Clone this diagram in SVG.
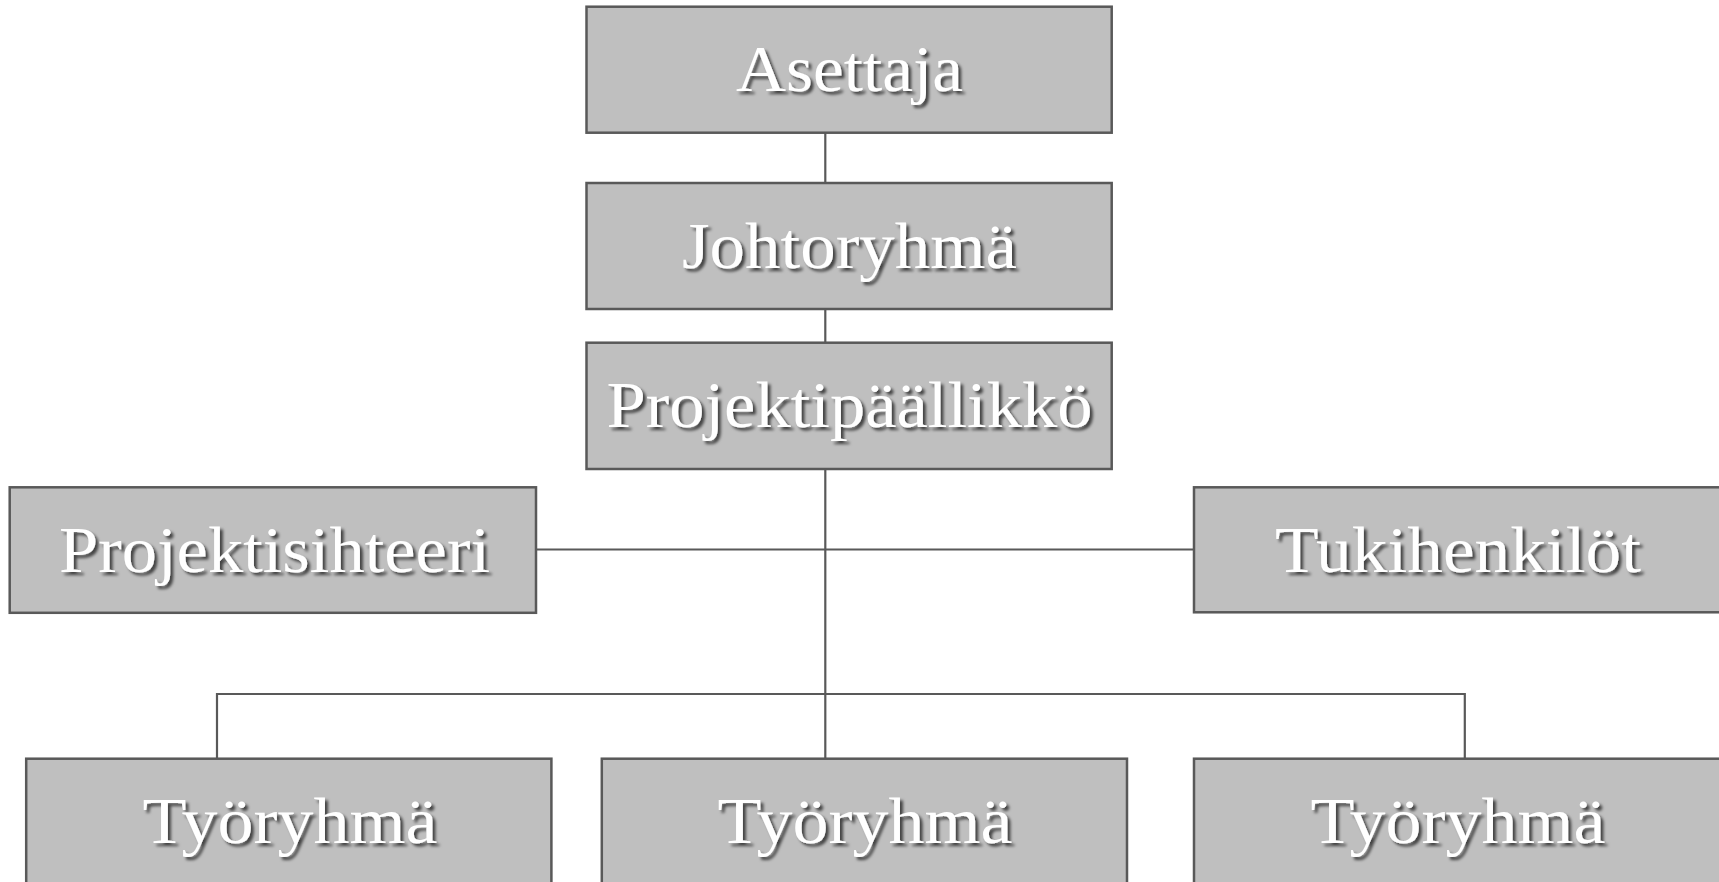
<svg xmlns="http://www.w3.org/2000/svg" width="1719" height="882" viewBox="0 0 1719 882">
<style>
.box{fill:#bfbfbf;stroke:#595959;stroke-width:2.5}
.lbl{font-family:"Liberation Serif","DejaVu Serif",serif;font-size:66px;fill:#ffffff;text-anchor:middle;filter:url(#sh)}
.con{stroke:#595959;stroke-width:2.2;fill:none}
</style>
<defs>
<filter id="sh" x="-10%" y="-30%" width="120%" height="160%">
<feDropShadow dx="3" dy="3" stdDeviation="1.8" flood-color="#000000" flood-opacity="0.65"/>
</filter>
</defs>
<g id="connectors">
<line class="con" x1="825.3" y1="132.7" x2="825.3" y2="183"/>
<line class="con" x1="825.3" y1="309" x2="825.3" y2="342.7"/>
<line class="con" x1="825.3" y1="469" x2="825.3" y2="758.7"/>
<line class="con" x1="536" y1="549.5" x2="1194" y2="549.5"/>
<polyline class="con" points="217,758.7 217,694 1464.8,694 1464.8,758.7"/>
</g>
<g id="asettaja">
<rect class="box" x="586.5" y="6.7" width="525.2" height="126"/>
<text class="lbl" x="849.5" y="91" textLength="227" lengthAdjust="spacingAndGlyphs">Asettaja</text>
</g>
<g id="johtoryhma">
<rect class="box" x="586.5" y="183" width="525.2" height="126"/>
<text class="lbl" x="849.5" y="267.5" textLength="335" lengthAdjust="spacingAndGlyphs">Johtoryhmä</text>
</g>
<g id="projektipaallikko">
<rect class="box" x="586.5" y="342.7" width="525.2" height="126.3"/>
<text class="lbl" x="849.5" y="427" textLength="486" lengthAdjust="spacingAndGlyphs">Projektipäällikkö</text>
</g>
<g id="projektisihteeri">
<rect class="box" x="9.7" y="487.3" width="526.3" height="125.5"/>
<text class="lbl" x="274.5" y="571.5" textLength="431" lengthAdjust="spacingAndGlyphs">Projektisihteeri</text>
</g>
<g id="tukihenkilot">
<rect class="box" x="1194" y="487.3" width="530" height="125"/>
<text class="lbl" x="1458" y="571.5" textLength="366" lengthAdjust="spacingAndGlyphs">Tukihenkilöt</text>
</g>
<g id="tyoryhma1">
<rect class="box" x="26.2" y="758.7" width="525.2" height="130"/>
<text class="lbl" x="290" y="843" textLength="295" lengthAdjust="spacingAndGlyphs">Työryhmä</text>
</g>
<g id="tyoryhma2">
<rect class="box" x="601.8" y="758.7" width="525.2" height="130"/>
<text class="lbl" x="865" y="843" textLength="295" lengthAdjust="spacingAndGlyphs">Työryhmä</text>
</g>
<g id="tyoryhma3">
<rect class="box" x="1194" y="758.7" width="530" height="130"/>
<text class="lbl" x="1458" y="843" textLength="295" lengthAdjust="spacingAndGlyphs">Työryhmä</text>
</g>
</svg>
